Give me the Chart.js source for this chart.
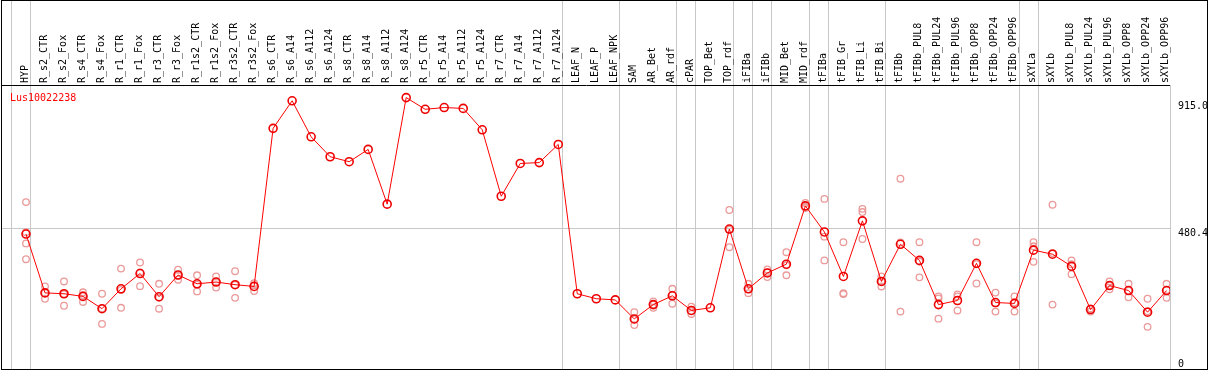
<!DOCTYPE html>
<html lang="en">
<head>
<meta charset="UTF-8">
<title>Lus10022238 expression</title>
<script src="https://cdn.jsdelivr.net/npm/chart.js@4.4.0/dist/chart.umd.min.js"></script>
<style>
  body { margin: 0; background: #fff; }
  #frame { position: absolute; left: 1px; top: 0; width: 1205px; height: 368px; border: 1px solid #000; }
</style>
</head>
<body>
<div id="frame"><canvas id="myChart"></canvas></div>
<script>
const geneName = 'Lus10022238';

const categories = ['HYP', 'R_s2_CTR', 'R_s2_Fox', 'R_s4_CTR', 'R_s4_Fox', 'R_r1_CTR', 'R_r1_Fox',
  'R_r3_CTR', 'R_r3_Fox', 'R_r1s2_CTR', 'R_r1s2_Fox', 'R_r3s2_CTR', 'R_r3s2_Fox',
  'R_s6_CTR', 'R_s6_A14', 'R_s6_A112', 'R_s6_A124', 'R_s8_CTR', 'R_s8_A14', 'R_s8_A112', 'R_s8_A124',
  'R_r5_CTR', 'R_r5_A14', 'R_r5_A112', 'R_r5_A124', 'R_r7_CTR', 'R_r7_A14', 'R_r7_A112', 'R_r7_A124',
  'LEAF_N', 'LEAF_P', 'LEAF_NPK', 'SAM', 'AR_Bet', 'AR_rdf', 'cPAR', 'TOP_Bet', 'TOP_rdf',
  'iFIBa', 'iFIBb', 'MID_Bet', 'MID_rdf', 'tFIBa', 'tFIB_Gr', 'tFIB_Li', 'tFIB_Bi', 'tFIBb',
  'tFIBb_PUL8', 'tFIBb_PUL24', 'tFIBb_PUL96', 'tFIBb_OPP8', 'tFIBb_OPP24', 'tFIBb_OPP96',
  'sXYLa', 'sXYLb', 'sXYLb_PUL8', 'sXYLb_PUL24', 'sXYLb_PUL96', 'sXYLb_OPP8', 'sXYLb_OPP24', 'sXYLb_OPP96'];

// mean expression per sample (red line)
const meanValues = [461, 260, 257, 248, 206, 274, 326, 247, 321, 291, 297, 288, 282,
  822, 916, 793, 725, 708, 750, 563, 927, 887, 893, 890, 817, 590, 702, 705, 767,
  257, 240, 236, 171, 220, 250, 200, 209, 478,
  274, 328, 358, 557, 468, 316, 506, 299, 426,
  371, 220, 234, 361, 227, 224,
  406, 392, 351, 203, 285, 268, 194, 268];

// individual replicates (pale circles)
const replicateValues = [
  [570, 467, 429, 375], [282, 240, 260], [299, 216, 256], [262, 229, 252], [257, 154, 207],
  [343, 209, 270], [364, 283, 330], [291, 206, 243], [339, 305, 319], [320, 265, 288],
  [316, 278, 297], [334, 243, 287], [293, 266, 287],
  [], [], [], [], [], [], [], [], [], [], [], [], [], [], [], [],
  [], [], [], [194, 150, 169], [231, 209, 220], [274, 223, 254], [213, 188, 198], [], [543, 416, 476],
  [291, 259, 272], [340, 314, 330], [399, 320, 354], [567, 550, 554], [581, 371, 452],
  [433, 259, 256], [547, 536, 444], [282, 316, 299], [650, 196, 432],
  [433, 313, 367], [241, 172, 248], [248, 200, 255], [433, 292, 358], [261, 196, 224], [248, 196, 227],
  [433, 419, 366], [561, 220, 396], [371, 358, 324], [206, 196, 207], [299, 272, 285],
  [291, 245, 268], [240, 144, 197], [291, 243, 270]];

// group separators come right after these sample indexes
const separatorAfter = [-1, 0, 28, 31, 34, 35, 37, 38, 39, 41, 42, 45, 52, 53];
const yTicks = [0, 480.4, 915.0];

const meanPoints = meanValues.map((v, i) => ({ x: i, y: v }));
const repPoints = [];
replicateValues.forEach((reps, i) => reps.forEach(v => repPoints.push({ x: i, y: v })));

const geneLabel = {
  id: 'geneLabel',
  afterDraw(chart) {
    const { ctx, chartArea } = chart;
    ctx.save();
    ctx.font = '10px "DejaVu Sans Mono"';
    ctx.fillStyle = '#ff0000';
    ctx.textBaseline = 'middle';
    ctx.fillText(geneName, chartArea.left + 8, chartArea.top + 13);
    ctx.restore();
  }
};

const ctx = document.getElementById('myChart').getContext('2d');
new Chart(ctx, {
  type: 'line',
  data: {
    datasets: [{
      label: geneName,
      data: meanPoints,
      order: 0,
      borderColor: '#ff0000',
      borderWidth: 1,
      pointRadius: 4,
      pointBorderWidth: 1.6,
      pointBorderColor: '#ee0000',
      pointBackgroundColor: 'rgba(0,0,0,0)',
      tension: 0
    }, {
      label: 'replicates',
      data: repPoints,
      order: 1,
      showLine: false,
      pointRadius: 3.3,
      pointBorderWidth: 1.3,
      pointBorderColor: '#eb9a9a',
      pointBackgroundColor: 'rgba(0,0,0,0)'
    }]
  },
  options: {
    animation: false,
    responsive: true,
    maintainAspectRatio: false,
    layout: { padding: 0, autoPadding: false },
    plugins: { legend: { display: false }, tooltip: { enabled: false } },
    scales: {
      x: {
        type: 'linear',
        position: 'top',
        min: -1.262,
        max: 60.18,
        afterBuildTicks: (scale) => {
          const t = categories.map((c, i) => ({ value: i }));
          separatorAfter.forEach(s => t.push({ value: s + 0.24 }));
          scale.ticks = t;
        },
        afterFit: (scale) => {
          scale.height = 84;
          scale.paddingLeft = 0;
          scale.paddingRight = 0;
        },
        grid: {
          color: (c) => (c.tick && !Number.isInteger(c.tick.value)) ? '#c8c8c8' : 'rgba(0,0,0,0)',
          tickLength: 84,
          lineWidth: 1
        },
        border: { color: '#000000', width: 1 },
        ticks: {
          autoSkip: false,
          minRotation: 90,
          maxRotation: 90,
          padding: -82,
          labelOffset: 11,
          color: '#000000',
          font: { family: 'DejaVu Sans Mono', size: 10 },
          callback: (v) => Number.isInteger(v) ? categories[v] : ''
        }
      },
      y: {
        type: 'linear',
        position: 'right',
        min: 0,
        max: 970,
        afterBuildTicks: (scale) => {
          scale.ticks = yTicks.map(v => ({ value: v }));
        },
        afterFit: (scale) => {
          scale.width = 37;
          scale.paddingTop = 0;
          scale.paddingBottom = 0;
        },
        grid: {
          drawTicks: false,
          color: (c) => (c.tick && c.tick.value === 480.4) ? '#c8c8c8' : 'rgba(0,0,0,0)'
        },
        border: { color: '#c8c8c8', width: 1 },
        ticks: {
          padding: 8,
          color: '#000000',
          font: { family: 'DejaVu Sans Mono', size: 10, lineHeight: 1 },
          callback: (v) => v === 0 ? ['0', ''] : ['', v.toFixed(1)]
        }
      }
    }
  },
  plugins: [geneLabel]
});
</script>
</body>
</html>
